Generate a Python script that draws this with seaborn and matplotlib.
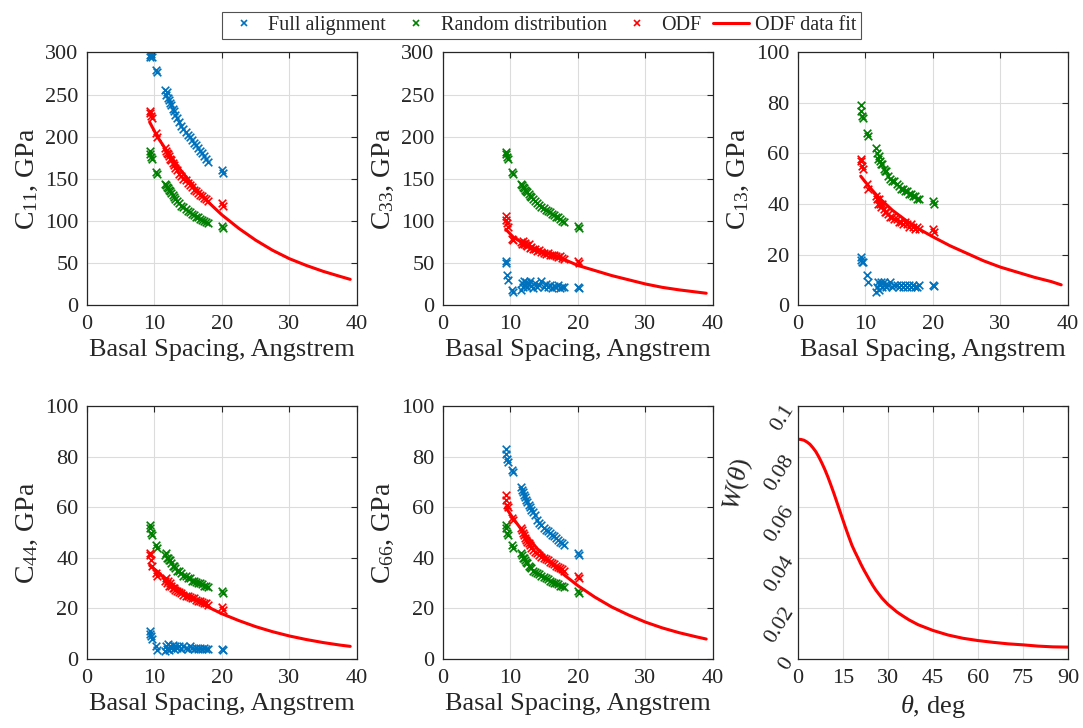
###########################
# Elastic constants vs d  #
###########################

import numpy as np
import pandas as pd
import seaborn as sns
import matplotlib.pyplot as plt
from matplotlib.lines import Line2D

#################
# Data (picked) #
#################

# Basal spacing of each sample, Angstrem (shared by the three series)
spacing = [9.3, 9.4, 9.5, 9.6, 10.3, 10.4, 11.5, 11.7, 11.8, 12.0, 12.1, 12.3, 12.5, 12.7, 12.9, 13.1, 13.4,
           13.7, 14.0, 14.3, 14.6, 14.9, 15.2, 15.5, 15.8, 16.1, 16.4, 16.7, 17.0, 17.3, 17.6, 17.9, 20.0, 20.1]

# C11, GPa
c11_full = [297, 295, 298, 294, 279, 277, 255, 250, 253, 246, 244, 240, 238, 233, 231, 226, 222,
            217, 213, 209, 206, 202, 199, 196, 193, 190, 187, 183, 180, 177, 173, 170, 160, 157]
c11_random = [183, 179, 176, 173, 158, 156, 144, 142, 140, 139, 137, 135, 133, 131, 128, 126, 124,
              121, 118, 116, 114, 112, 110, 108, 107, 105, 104, 102, 101, 100, 99, 98, 94, 92]
c11_odf = [231, 228, 225, 222, 204, 200, 186, 183, 181, 179, 177, 174, 172, 169, 166, 163, 160,
           156, 153, 150, 148, 145, 142, 140, 137, 135, 133, 131, 129, 127, 126, 124, 121, 118]

# C33, GPa
c33_full = [52, 50, 36, 30, 18, 16, 18, 26, 22, 29, 24, 27, 21, 25, 28, 23, 20,
            26, 22, 24, 29, 21, 25, 22, 24, 20, 23, 21, 24, 20, 22, 21, 22, 20]
c33_random = [182, 179, 176, 174, 158, 156, 144, 142, 140, 139, 137, 136, 134, 132, 130, 128, 126,
              123, 121, 119, 117, 115, 113, 112, 110, 108, 107, 105, 104, 102, 100, 99, 94, 92]
c33_odf = [106, 101, 97, 93, 79, 77, 75, 73, 76, 72, 74, 71, 70, 72, 68, 69, 66,
           67, 64, 65, 63, 62, 61, 62, 60, 59, 60, 58, 57, 58, 56, 55, 52, 50]

# C13, GPa
c13_full = [19, 18, 17, 17, 12, 9, 5, 7, 9, 6, 8, 9, 7, 9, 8, 7, 8,
            9, 7, 8, 8, 7, 8, 7, 8, 7, 8, 7, 8, 7, 7, 8, 8, 7.5]
c13_random = [79, 77, 75, 74, 68, 67, 62, 60, 58, 59, 57, 56, 56, 54, 53, 53, 51,
              50, 49, 49, 48, 47, 46, 46, 45, 45, 44, 44, 43, 43, 42, 42, 41, 40]
c13_odf = [58, 57, 55, 54, 48, 46, 43, 42, 40, 42, 40, 39, 40, 38, 37, 37, 36,
           35, 35, 34, 34, 33, 33, 32, 33, 32, 31, 32, 31, 30, 31, 30, 30, 29]

# C44, GPa
c44_full = [11, 10, 9, 8, 5, 3.5, 3, 5, 4, 6, 3.5, 5, 4.5, 5.5, 4, 5, 4.5,
            5, 4, 5, 4.5, 4, 5, 4.5, 4, 4.5, 4, 4.5, 4, 4.5, 4, 4, 4, 3.5]
c44_random = [53, 52, 50, 49, 45, 44, 41, 42, 40, 40, 39, 39, 38, 37, 37, 36, 35,
              35, 34, 33, 33, 32, 32, 31, 31, 30.5, 30, 30, 29.5, 29, 29, 28.5, 27, 26]
c44_odf = [42, 41, 39, 37, 34, 33, 31, 32, 30, 31, 29, 30, 29, 28, 28, 27.5, 27,
           26.5, 26, 25.5, 25, 25, 24.5, 24, 24, 23.5, 23, 23, 22.5, 22, 22, 21.5, 20.5, 19.5]

# C66, GPa
c66_full = [83, 81, 79, 78, 75, 74, 68, 67, 66, 65, 64, 63, 62, 61, 60, 59, 58,
            57, 55, 54, 53, 52, 51, 50.5, 50, 49, 48.5, 48, 47, 46.5, 46, 45, 42, 41]
c66_random = [53, 52, 50, 49, 45, 44, 42, 41, 40, 40, 39, 38.5, 38, 37, 36.5, 36, 35,
              34.5, 34, 33.5, 33, 32.5, 32, 31.5, 31, 30.5, 30, 30, 29.5, 29, 29, 28.5, 27, 26]
c66_odf = [65, 63, 61, 60, 56, 55, 52, 51, 50, 49, 48, 47, 46.5, 46, 45, 44, 43,
           42.5, 42, 41, 40.5, 40, 39.5, 39, 38.5, 38, 37.5, 37, 36.5, 36, 35.5, 35, 33, 32]

# ODF data fit
fit_spacing = [9.3, 10.5, 12.0, 14.0, 16.0, 18.0, 20.0, 22.5, 25.0, 27.5, 30.0, 32.5, 35.0, 37.5, 39.0]
c11_fit = [217, 199, 181, 159, 139, 122, 107, 91, 77, 65, 55, 47, 40, 34, 30.5]
c33_fit = [90, 80, 73, 66, 60, 54, 47, 41, 35, 30, 25, 21, 18, 15.5, 14]
c13_fit = [51, 47, 42.5, 37.5, 33.5, 30, 27, 23.5, 20.5, 17.5, 15, 13, 11, 9.3, 8]
c44_fit = [37, 34.5, 30.7, 26.9, 23.5, 20.5, 17.9, 15.2, 12.8, 10.8, 9.1, 7.7, 6.5, 5.5, 5.0]
c66_fit = [60, 55.3, 49.9, 43.6, 38.0, 33.2, 29.0, 24.5, 20.6, 17.4, 14.6, 12.3, 10.4, 8.8, 7.9]

# Orientation distribution function W(theta)
theta = [0, 1, 2, 3, 4, 5, 6, 7, 8, 9, 10, 11, 12, 13, 14, 15, 16, 17, 18, 19, 20, 21, 22, 24, 25, 26,
         28, 30, 33, 35, 37, 40, 45, 50, 55, 60, 65, 70, 75, 80, 85, 90]
w_theta = [0.0870, 0.0869, 0.0866, 0.0859, 0.0850, 0.0836, 0.0820, 0.0799, 0.0775, 0.0749, 0.0720, 0.0688,
           0.0655, 0.0620, 0.0585, 0.0550, 0.0515, 0.0482, 0.0450, 0.0424, 0.0400, 0.0375, 0.0352, 0.0310,
           0.0290, 0.0272, 0.0241, 0.0216, 0.0186, 0.0170, 0.0155, 0.0136, 0.0113, 0.0095, 0.0082, 0.0073,
           0.0066, 0.0060, 0.0056, 0.0051, 0.0048, 0.0047]

panels = [
    ('C$_{11}$, GPa', [0, 50, 100, 150, 200, 250, 300], c11_full, c11_random, c11_odf, c11_fit),
    ('C$_{33}$, GPa', [0, 50, 100, 150, 200, 250, 300], c33_full, c33_random, c33_odf, c33_fit),
    ('C$_{13}$, GPa', [0, 20, 40, 60, 80, 100], c13_full, c13_random, c13_odf, c13_fit),
    ('C$_{44}$, GPa', [0, 20, 40, 60, 80, 100], c44_full, c44_random, c44_odf, c44_fit),
    ('C$_{66}$, GPa', [0, 20, 40, 60, 80, 100], c66_full, c66_random, c66_odf, c66_fit),
]

blue, green, red = '#0072BD', '#008000', '#FF0000'
dark = '#262626'

#####################
# Build the Figure  #
#####################

sns.set_style("white")
plt.rcParams['font.family'] = ['Liberation Serif', 'DejaVu Serif']
plt.rcParams['mathtext.fontset'] = 'custom'
plt.rcParams['mathtext.rm'] = 'Liberation Serif'
plt.rcParams['mathtext.it'] = 'Liberation Serif:italic'

fig = plt.figure(figsize=(10.83, 7.28), dpi=100)

col_left = [0.0803, 0.409, 0.7368]
row_bottom = [0.581, 0.0948]
ax_w, ax_h = 0.2493, 0.347


def style_axis(ax):
    ax.grid(True, color='#dcdcdc', linewidth=0.8)
    ax.set_axisbelow(True)
    for s in ax.spines.values():
        s.set_color(dark)
        s.set_linewidth(0.9)
    ax.tick_params(direction='in', top=True, right=True, length=4, width=0.8,
                   colors=dark, labelsize=16)
    ax.tick_params(axis='x', pad=7)
    ax.tick_params(axis='y', pad=6)


for i, (ylab, yticks, full, rand, odf, fit) in enumerate(panels):
    ax = fig.add_axes([col_left[i % 3], row_bottom[i // 3], ax_w, ax_h])
    df = pd.DataFrame({'d': spacing, 'full': full, 'random': rand, 'odf': odf})
    for col, c in [('full', blue), ('random', green), ('odf', red)]:
        sns.scatterplot(data=df, x='d', y=col, ax=ax, marker='x', color=c, s=30, linewidth=1.2)
    fit_df = pd.DataFrame({'d': fit_spacing, 'c': fit})
    sns.lineplot(data=fit_df, x='d', y='c', ax=ax, color=red, linewidth=2.2)
    ax.set_xlim(0, 40)
    ax.set_ylim(0, yticks[-1])
    ax.set_xticks([0, 10, 20, 30, 40])
    ax.set_yticks(yticks)
    ax.set_xlabel('Basal Spacing, Angstrem', fontsize=19, color=dark, labelpad=4)
    ax.set_ylabel(ylab, fontsize=20, color=dark, labelpad=4)
    style_axis(ax)

# W(theta) panel
ax = fig.add_axes([col_left[2], row_bottom[1], ax_w, ax_h])
sns.lineplot(x=theta, y=w_theta, ax=ax, color=red, linewidth=2.2)
ax.set_xlim(0, 90)
ax.set_ylim(0, 0.1)
ax.set_xticks([0, 15, 30, 45, 60, 75, 90])
ax.set_yticks([0, 0.02, 0.04, 0.06, 0.08, 0.1])
ax.set_yticklabels(['0', '0.02', '0.04', '0.06', '0.08', '0.1'])
ax.set_xlabel(r'$\theta$, deg', fontsize=19, color=dark, labelpad=4)
ax.set_ylabel(r'$W(\theta)$', fontsize=19, color=dark, rotation=78)
ax.yaxis.set_label_coords(-0.175, 0.68)
style_axis(ax)
plt.setp(ax.get_yticklabels(), rotation=58, ha='right', va='center', rotation_mode='anchor')

# Legend
handles = [
    Line2D([], [], linestyle='none', marker='x', color=blue, markersize=5, markeredgewidth=1.2),
    Line2D([], [], linestyle='none', marker='x', color=green, markersize=5, markeredgewidth=1.2),
    Line2D([], [], linestyle='none', marker='x', color=red, markersize=5, markeredgewidth=1.2),
    Line2D([], [], color=red, linewidth=2.2),
]
labels = ['Full alignment', 'Random distribution', 'ODF', 'ODF data fit']
leg = fig.legend(handles, labels, loc='upper center', bbox_to_anchor=(0.5, 0.998), ncol=4,
                 fontsize=14.5, frameon=True, fancybox=False, edgecolor=dark,
                 handlelength=1.8, handletextpad=0.3, columnspacing=0.6, borderpad=0.2)
leg.get_frame().set_linewidth(0.8)
for t in leg.get_texts():
    t.set_color(dark)

fig.savefig('out.png', dpi=100)
